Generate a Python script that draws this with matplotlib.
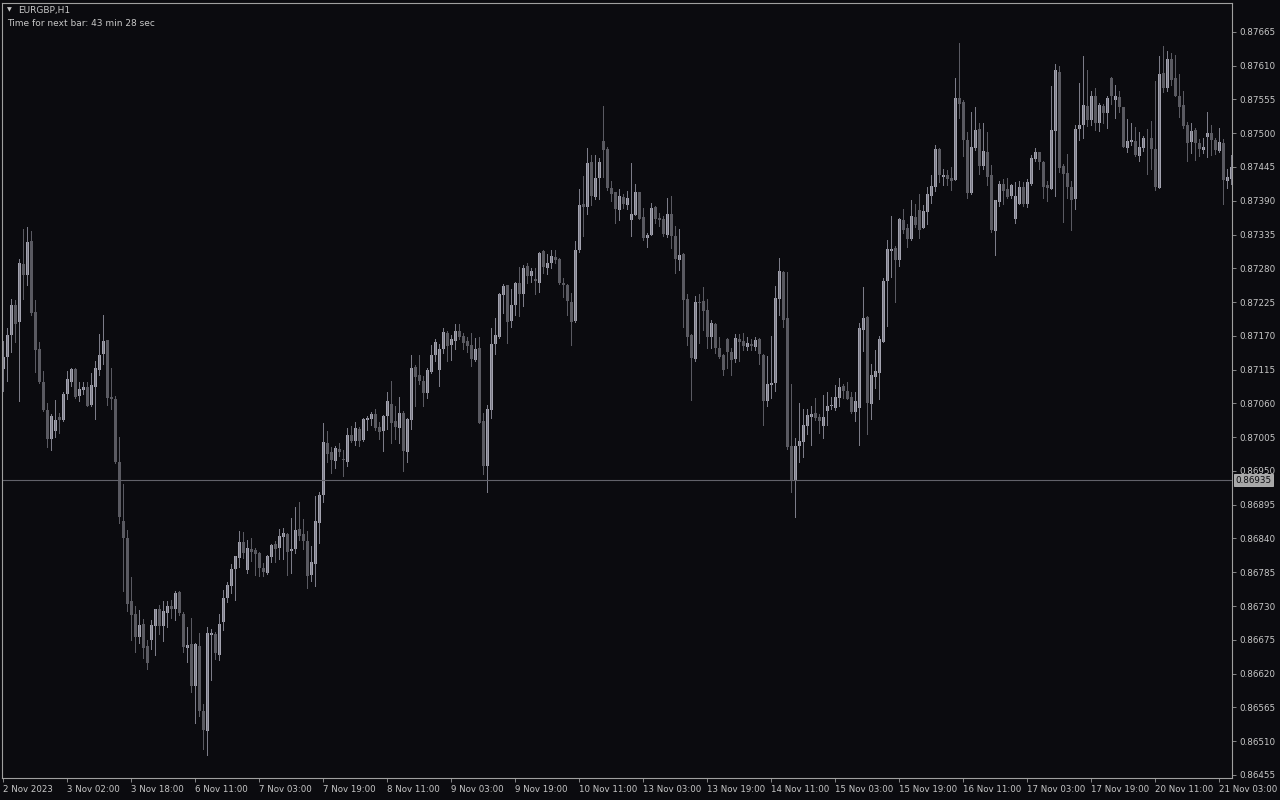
import numpy as np
import matplotlib.pyplot as plt

# EURGBP H1 - valores em pontos (1e-5)
o = [87116, 87136, 87172, 87220, 87193, 87287, 87269, 87324, 87209, 87148,
     87095, 87049, 87002, 87015, 87038, 87033, 87075, 87095, 87116, 87072,
     87082, 87087, 87058, 87087, 87114, 87140, 87163, 87071, 87067, 86965,
     86868, 86841, 86738, 86717, 86680, 86700, 86665, 86675, 86697, 86725,
     86697, 86719, 86730, 86725, 86753, 86717, 86662, 86668, 86599, 86665,
     86559, 86526, 86683, 86684, 86651, 86704, 86743, 86762, 86790, 86808,
     86835, 86789, 86823, 86821, 86816, 86792, 86784, 86810, 86831, 86825,
     86843, 86847, 86819, 86823, 86855, 86847, 86836, 86781, 86798, 86865,
     86911, 86995, 86981, 86966, 86985, 86969, 86965, 87009, 86998, 87018,
     87000, 87033, 87034, 87042, 87022, 87015, 87039, 87059, 87031, 87020,
     87044, 86981, 87033, 87120, 87106, 87096, 87077, 87111, 87139, 87114,
     87148, 87175, 87155, 87161, 87178, 87170, 87161, 87155, 87131, 87150,
     87031, 86958, 87049, 87156, 87168, 87237, 87253, 87194, 87221, 87256,
     87238, 87283, 87267, 87263, 87256, 87308, 87281, 87289, 87299, 87295,
     87256, 87253, 87225, 87194, 87310, 87384, 87380, 87453, 87396, 87427,
     87487, 87474, 87411, 87405, 87375, 87396, 87383, 87359, 87367, 87405,
     87364, 87329, 87334, 87380, 87362, 87361, 87334, 87368, 87332, 87294,
     87304, 87230, 87172, 87132, 87225, 87226, 87212, 87168, 87189, 87150,
     87139, 87165, 87144, 87132, 87165, 87161, 87152, 87157, 87152, 87165,
     87139, 87064, 87090, 87093, 87230, 87274, 87199, 86990, 86936, 86990,
     86997, 87023, 87038, 87044, 87038, 87023, 87047, 87056, 87053, 87069,
     87088, 87080, 87071, 87046, 87053, 87180, 87201, 87059, 87103, 87109,
     87160, 87259, 87308, 87313, 87294, 87359, 87346, 87328, 87364, 87375,
     87346, 87372, 87398, 87412, 87474, 87429, 87432, 87427, 87424, 87557,
     87551, 87489, 87403, 87476, 87507, 87447, 87470, 87432, 87341, 87388,
     87417, 87409, 87398, 87361, 87384, 87412, 87384, 87417, 87458, 87470,
     87453, 87416, 87409, 87504, 87600, 87447, 87435, 87412, 87393, 87507,
     87514, 87544, 87522, 87561, 87517, 87544, 87533, 87590, 87554, 87559,
     87543, 87476, 87486, 87487, 87463, 87476, 87491, 87492, 87474, 87411,
     87598, 87574, 87621, 87590, 87561, 87546, 87514, 87486, 87505, 87484,
     87473, 87494, 87500, 87489, 87471, 87484, 87422, 87425]
h = [87161, 87183, 87230, 87228, 87295, 87344, 87348, 87340, 87228, 87160,
     87112, 87061, 87042, 87066, 87044, 87079, 87112, 87118, 87118, 87095,
     87095, 87095, 87109, 87129, 87173, 87204, 87163, 87118, 87072, 87006,
     86928, 86854, 86778, 86730, 86724, 86709, 86675, 86707, 86725, 86732,
     86738, 86738, 86740, 86754, 86754, 86721, 86696, 86711, 86670, 86686,
     86570, 86696, 86692, 86688, 86717, 86756, 86769, 86798, 86811, 86852,
     86851, 86838, 86841, 86825, 86818, 86800, 86813, 86831, 86836, 86855,
     86857, 86849, 86873, 86892, 86900, 86871, 86852, 86828, 86909, 86916,
     87028, 87015, 86989, 86990, 86995, 86984, 87020, 87023, 87030, 87022,
     87036, 87039, 87046, 87051, 87030, 87041, 87079, 87096, 87055, 87071,
     87047, 87036, 87139, 87123, 87139, 87104, 87118, 87155, 87165, 87156,
     87182, 87178, 87172, 87189, 87189, 87175, 87168, 87175, 87167, 87168,
     87044, 87058, 87182, 87199, 87240, 87254, 87253, 87246, 87258, 87282,
     87286, 87288, 87281, 87281, 87307, 87310, 87303, 87310, 87310, 87297,
     87264, 87254, 87240, 87324, 87409, 87430, 87476, 87465, 87465, 87460,
     87544, 87478, 87422, 87405, 87409, 87401, 87406, 87451, 87417, 87405,
     87378, 87337, 87386, 87381, 87370, 87365, 87394, 87398, 87349, 87344,
     87305, 87238, 87173, 87235, 87238, 87250, 87230, 87196, 87191, 87168,
     87140, 87167, 87150, 87173, 87173, 87175, 87168, 87165, 87168, 87167,
     87140, 87137, 87170, 87251, 87297, 87276, 87274, 87091, 87003, 87061,
     87051, 87051, 87056, 87069, 87042, 87074, 87079, 87071, 87090, 87101,
     87091, 87095, 87079, 87079, 87191, 87250, 87202, 87124, 87147, 87170,
     87264, 87326, 87365, 87316, 87362, 87377, 87352, 87391, 87385, 87401,
     87383, 87412, 87432, 87481, 87476, 87442, 87440, 87445, 87590, 87647,
     87554, 87502, 87535, 87543, 87517, 87517, 87502, 87448, 87391, 87422,
     87425, 87427, 87417, 87421, 87422, 87421, 87425, 87465, 87476, 87470,
     87455, 87422, 87577, 87613, 87610, 87450, 87466, 87422, 87514, 87582,
     87625, 87603, 87569, 87574, 87549, 87548, 87561, 87592, 87579, 87569,
     87543, 87523, 87517, 87510, 87502, 87496, 87507, 87520, 87585, 87626,
     87642, 87634, 87631, 87628, 87597, 87569, 87519, 87517, 87509, 87491,
     87492, 87535, 87514, 87492, 87509, 87491, 87442, 87465]
l = [87080, 87096, 87144, 87160, 87064, 87230, 87253, 87204, 87111, 87093,
     87047, 86989, 86984, 87006, 87012, 87031, 87067, 87088, 87069, 87064,
     87075, 87056, 87055, 87034, 87106, 87124, 87058, 87051, 86963, 86865,
     86754, 86722, 86675, 86655, 86670, 86645, 86627, 86660, 86650, 86684,
     86673, 86696, 86711, 86707, 86716, 86655, 86639, 86590, 86540, 86551,
     86497, 86488, 86610, 86643, 86642, 86691, 86737, 86751, 86740, 86794,
     86808, 86784, 86803, 86781, 86779, 86779, 86782, 86802, 86802, 86806,
     86806, 86781, 86784, 86816, 86838, 86823, 86759, 86770, 86762, 86833,
     86900, 86965, 86947, 86955, 86974, 86941, 86958, 86997, 86993, 86990,
     86998, 87017, 87025, 87017, 87002, 86982, 87018, 86995, 87002, 86995,
     86950, 86965, 87018, 87056, 87091, 87056, 87069, 87109, 87129, 87088,
     87142, 87129, 87131, 87148, 87165, 87148, 87144, 87121, 87129, 87028,
     86945, 86916, 87036, 87140, 87167, 87207, 87158, 87185, 87204, 87202,
     87218, 87256, 87258, 87238, 87242, 87272, 87270, 87281, 87289, 87254,
     87234, 87204, 87155, 87193, 87307, 87332, 87368, 87383, 87393, 87393,
     87429, 87408, 87389, 87354, 87359, 87378, 87377, 87332, 87367, 87361,
     87326, 87315, 87334, 87354, 87349, 87332, 87331, 87313, 87272, 87277,
     87185, 87155, 87066, 87129, 87158, 87180, 87150, 87150, 87142, 87134,
     87107, 87118, 87107, 87128, 87129, 87147, 87147, 87147, 87147, 87124,
     87025, 87055, 87069, 87080, 87204, 87185, 86985, 86916, 86875, 86965,
     86973, 87010, 86993, 87033, 87012, 87003, 87025, 87051, 87049, 87056,
     87069, 87067, 87044, 87031, 86993, 87145, 87010, 87034, 87085, 87067,
     87160, 87186, 87266, 87225, 87283, 87337, 87315, 87326, 87348, 87329,
     87346, 87352, 87386, 87406, 87421, 87416, 87416, 87408, 87424, 87525,
     87463, 87394, 87401, 87473, 87434, 87442, 87416, 87339, 87302, 87381,
     87384, 87394, 87394, 87354, 87384, 87381, 87380, 87416, 87455, 87442,
     87394, 87389, 87409, 87398, 87437, 87355, 87394, 87342, 87377, 87489,
     87492, 87512, 87514, 87505, 87504, 87517, 87509, 87548, 87525, 87535,
     87478, 87470, 87481, 87463, 87455, 87471, 87434, 87442, 87408, 87411,
     87567, 87569, 87579, 87561, 87526, 87509, 87455, 87468, 87456, 87463,
     87468, 87461, 87465, 87466, 87470, 87384, 87411, 87417]
c = [87136, 87172, 87221, 87189, 87289, 87269, 87323, 87207, 87147, 87095,
     87049, 87002, 87039, 87033, 87033, 87075, 87099, 87116, 87071, 87083,
     87087, 87056, 87090, 87118, 87139, 87161, 87069, 87067, 86965, 86875,
     86841, 86733, 86716, 86680, 86699, 86662, 86637, 86699, 86725, 86697,
     86722, 86730, 86725, 86751, 86719, 86664, 86667, 86600, 86668, 86559,
     86528, 86686, 86686, 86653, 86700, 86743, 86764, 86790, 86811, 86835,
     86816, 86825, 86818, 86814, 86792, 86786, 86811, 86830, 86823, 86844,
     86849, 86818, 86823, 86854, 86844, 86836, 86779, 86802, 86868, 86911,
     86997, 86977, 86968, 86987, 86981, 86968, 87009, 86998, 87020, 86998,
     87034, 87036, 87042, 87020, 87014, 87039, 87064, 87028, 87022, 87044,
     86982, 87034, 87118, 87103, 87096, 87077, 87114, 87139, 87160, 87148,
     87177, 87153, 87165, 87178, 87168, 87158, 87153, 87132, 87148, 87028,
     86958, 87051, 87156, 87172, 87238, 87251, 87193, 87221, 87256, 87238,
     87281, 87267, 87276, 87259, 87305, 87282, 87289, 87300, 87294, 87256,
     87253, 87226, 87193, 87310, 87383, 87380, 87451, 87398, 87427, 87453,
     87473, 87411, 87401, 87377, 87398, 87384, 87394, 87368, 87405, 87361,
     87329, 87334, 87378, 87361, 87359, 87336, 87368, 87332, 87295, 87302,
     87228, 87168, 87134, 87225, 87223, 87210, 87168, 87191, 87150, 87136,
     87114, 87144, 87131, 87167, 87160, 87153, 87158, 87153, 87163, 87140,
     87064, 87091, 87093, 87232, 87276, 87196, 86989, 86936, 86990, 86998,
     87025, 87041, 87042, 87036, 87031, 87038, 87056, 87057, 87071, 87087,
     87080, 87067, 87046, 87064, 87182, 87199, 87061, 87106, 87112, 87165,
     87259, 87311, 87311, 87294, 87361, 87342, 87328, 87365, 87351, 87342,
     87373, 87401, 87414, 87474, 87432, 87432, 87425, 87422, 87557, 87548,
     87489, 87403, 87478, 87505, 87447, 87471, 87429, 87342, 87391, 87417,
     87406, 87396, 87416, 87398, 87412, 87384, 87421, 87460, 87470, 87453,
     87412, 87411, 87505, 87603, 87443, 87434, 87412, 87391, 87507, 87514,
     87546, 87522, 87561, 87517, 87546, 87533, 87557, 87561, 87561, 87543,
     87478, 87487, 87489, 87465, 87478, 87492, 87490, 87474, 87412, 87597,
     87574, 87621, 87587, 87561, 87543, 87512, 87484, 87504, 87484, 87474,
     87478, 87500, 87489, 87473, 87486, 87424, 87429, 87445]

time_labels = ["2 Nov 2023", "3 Nov 02:00", "3 Nov 18:00", "6 Nov 11:00",
               "7 Nov 03:00", "7 Nov 19:00", "8 Nov 11:00", "9 Nov 03:00",
               "9 Nov 19:00", "10 Nov 11:00", "13 Nov 03:00", "13 Nov 19:00",
               "14 Nov 11:00", "15 Nov 03:00", "15 Nov 19:00", "16 Nov 11:00",
               "17 Nov 03:00", "17 Nov 19:00", "20 Nov 11:00", "21 Nov 03:00"]
price_ticks = [0.87665, 0.87610, 0.87555, 0.87500, 0.87445, 0.87390, 0.87335,
               0.87280, 0.87225, 0.87170, 0.87115, 0.87060, 0.87005, 0.86950,
               0.86895, 0.86840, 0.86785, 0.86730, 0.86675, 0.86620, 0.86565,
               0.86510, 0.86455]
bid = 0.86935

op = np.array(o) / 1e5
hi = np.array(h) / 1e5
lo = np.array(l) / 1e5
cl = np.array(c) / 1e5
x = np.arange(len(op))
up = cl >= op

bg = "#0b0b0f"
fig = plt.figure(figsize=(12.8, 8), dpi=100, facecolor=bg)
ax = fig.add_axes([2/1280, 22/800, 1230/1280, 775/800], facecolor=bg)

# pavios (1 px) e corpos (3 px)
ax.vlines(x, lo, hi, colors=np.where(up, "#7c7c88", "#5a5a62"), linewidth=0.7,
          antialiased=False)
body = np.maximum(np.abs(cl - op), 0.000012)
ax.bar(x, body, bottom=np.minimum(op, cl), width=0.76,
       color=np.where(up, "#a2a2ae", "#5a5a61"), linewidth=0, antialiased=False)

ax.axhline(bid, color="#62626a", lw=0.8)

ax.set_xlim(-0.33, len(op) - 1 + 0.17)
ax.set_ylim(0.86450, 0.87712)

ax.yaxis.tick_right()
ax.set_yticks(price_ticks)
ax.set_yticklabels([f"{p:.5f}" for p in price_ticks])
ax.tick_params(axis="y", length=3, width=0.6, color="#9a9a9a",
               labelcolor="#c8c8c8", labelsize=6.3, pad=2)

ax.set_xticks(np.arange(0, len(op), 16)[:len(time_labels)])
ax.set_xticklabels(time_labels)
for t in ax.get_xticklabels():
    t.set_horizontalalignment("left")
ax.tick_params(axis="x", length=3, width=0.6, color="#9a9a9a",
               labelcolor="#c8c8c8", labelsize=6.2, pad=2)

for s in ax.spines.values():
    s.set_color("#a0a0a0")
    s.set_linewidth(0.8)

ax.text(1.003, bid, f"{bid:.5f}", transform=ax.get_yaxis_transform(),
        ha="left", va="center", fontsize=6.3, color="#0b0b0f",
        bbox=dict(boxstyle="square,pad=0.15", fc="#a8a8a8", ec="#d0d0d0", lw=0.5))

fig.text(7/1280, 1 - 10/800, "\u25bc", fontsize=4.5, color="#c8c8c8", va="center")
fig.text(18/1280, 1 - 10/800, "EURGBP,H1", fontsize=6.5, color="#c8c8c8", va="center")
fig.text(7/1280, 1 - 23/800, "Time for next bar: 43 min 28 sec", fontsize=6.5,
         color="#c8c8c8", va="center")

fig.savefig("out.png", dpi=100, facecolor=bg)
